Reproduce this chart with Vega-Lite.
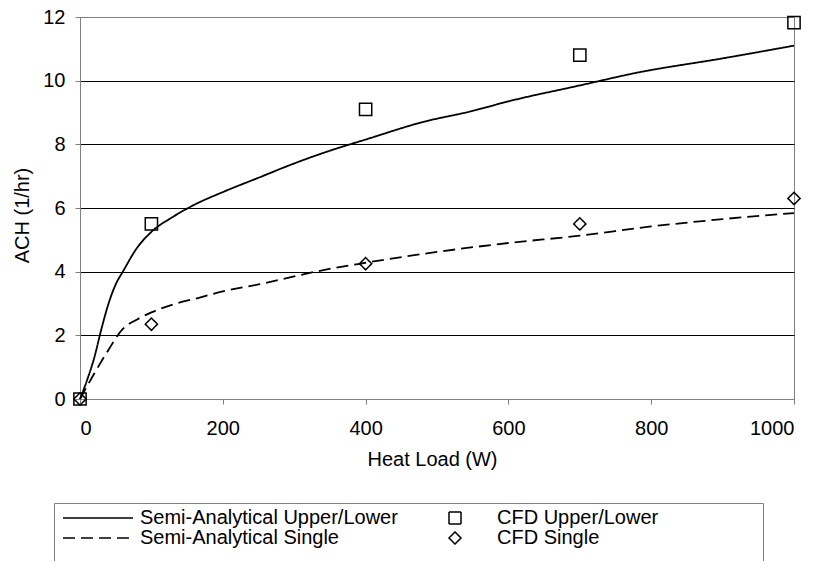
{
  "$schema": "https://vega.github.io/schema/vega-lite/v6.json",
  "width": 714,
  "height": 382,
  "autosize": {"type": "none"},
  "padding": {"left": 80, "top": 17, "right": 24, "bottom": 162},
  "background": "white",
  "config": {
    "view": {"stroke": "#808080", "strokeWidth": 1},
    "font": "Liberation Sans",
    "axis": {
      "labelFont": "Liberation Sans",
      "labelFontSize": 20,
      "labelColor": "black",
      "titleFont": "Liberation Sans",
      "titleFontSize": 20,
      "titleFontWeight": "normal",
      "titleColor": "black",
      "domainColor": "#808080",
      "tickColor": "#808080",
      "tickSize": 5
    },
    "legend": {
      "labelFont": "Liberation Sans",
      "labelFontSize": 20,
      "labelColor": "black",
      "labelLimit": 400
    }
  },
  "datasets": {
    "curves": [
      {"series": "Semi-Analytical Upper/Lower", "load": 0, "ach": 0},
      {"series": "Semi-Analytical Upper/Lower", "load": 10, "ach": 0.6},
      {"series": "Semi-Analytical Upper/Lower", "load": 20, "ach": 1.3},
      {"series": "Semi-Analytical Upper/Lower", "load": 30, "ach": 2.2},
      {"series": "Semi-Analytical Upper/Lower", "load": 40, "ach": 3.0},
      {"series": "Semi-Analytical Upper/Lower", "load": 50, "ach": 3.6},
      {"series": "Semi-Analytical Upper/Lower", "load": 60, "ach": 4.0},
      {"series": "Semi-Analytical Upper/Lower", "load": 80, "ach": 4.75},
      {"series": "Semi-Analytical Upper/Lower", "load": 100, "ach": 5.25},
      {"series": "Semi-Analytical Upper/Lower", "load": 130, "ach": 5.72},
      {"series": "Semi-Analytical Upper/Lower", "load": 160, "ach": 6.1},
      {"series": "Semi-Analytical Upper/Lower", "load": 200, "ach": 6.5},
      {"series": "Semi-Analytical Upper/Lower", "load": 250, "ach": 6.95},
      {"series": "Semi-Analytical Upper/Lower", "load": 300, "ach": 7.4},
      {"series": "Semi-Analytical Upper/Lower", "load": 350, "ach": 7.8},
      {"series": "Semi-Analytical Upper/Lower", "load": 400, "ach": 8.15},
      {"series": "Semi-Analytical Upper/Lower", "load": 480, "ach": 8.7},
      {"series": "Semi-Analytical Upper/Lower", "load": 550, "ach": 9.05},
      {"series": "Semi-Analytical Upper/Lower", "load": 600, "ach": 9.35},
      {"series": "Semi-Analytical Upper/Lower", "load": 700, "ach": 9.85},
      {"series": "Semi-Analytical Upper/Lower", "load": 780, "ach": 10.25},
      {"series": "Semi-Analytical Upper/Lower", "load": 900, "ach": 10.7},
      {"series": "Semi-Analytical Upper/Lower", "load": 1000, "ach": 11.1},
      {"series": "Semi-Analytical Single", "load": 0, "ach": 0},
      {"series": "Semi-Analytical Single", "load": 20, "ach": 0.8},
      {"series": "Semi-Analytical Single", "load": 40, "ach": 1.55},
      {"series": "Semi-Analytical Single", "load": 60, "ach": 2.2},
      {"series": "Semi-Analytical Single", "load": 80, "ach": 2.5},
      {"series": "Semi-Analytical Single", "load": 100, "ach": 2.72},
      {"series": "Semi-Analytical Single", "load": 135, "ach": 3.0},
      {"series": "Semi-Analytical Single", "load": 170, "ach": 3.2},
      {"series": "Semi-Analytical Single", "load": 200, "ach": 3.38},
      {"series": "Semi-Analytical Single", "load": 250, "ach": 3.6},
      {"series": "Semi-Analytical Single", "load": 300, "ach": 3.85},
      {"series": "Semi-Analytical Single", "load": 330, "ach": 4.0},
      {"series": "Semi-Analytical Single", "load": 400, "ach": 4.28},
      {"series": "Semi-Analytical Single", "load": 500, "ach": 4.62},
      {"series": "Semi-Analytical Single", "load": 600, "ach": 4.9},
      {"series": "Semi-Analytical Single", "load": 700, "ach": 5.13},
      {"series": "Semi-Analytical Single", "load": 800, "ach": 5.42},
      {"series": "Semi-Analytical Single", "load": 900, "ach": 5.65},
      {"series": "Semi-Analytical Single", "load": 1000, "ach": 5.84}
    ],
    "cfd": [
      {"series": "CFD Upper/Lower", "load": 0, "ach": 0},
      {"series": "CFD Upper/Lower", "load": 100, "ach": 5.5},
      {"series": "CFD Upper/Lower", "load": 400, "ach": 9.1},
      {"series": "CFD Upper/Lower", "load": 700, "ach": 10.8},
      {"series": "CFD Upper/Lower", "load": 1000, "ach": 11.82},
      {"series": "CFD Single", "load": 0, "ach": 0},
      {"series": "CFD Single", "load": 100, "ach": 2.35},
      {"series": "CFD Single", "load": 400, "ach": 4.25},
      {"series": "CFD Single", "load": 700, "ach": 5.5},
      {"series": "CFD Single", "load": 1000, "ach": 6.3}
    ]
  },
  "layer": [
    {
      "data": {"name": "curves"},
      "mark": {"type": "line", "interpolate": "monotone", "color": "black", "strokeWidth": 1.8},
      "encoding": {
        "x": {
          "field": "load", "type": "quantitative",
          "scale": {"domain": [0, 1000], "nice": false, "zero": false},
          "axis": {
            "values": [0, 200, 400, 600, 800, 1000],
            "format": "d",
            "grid": false,
            "labelPadding": 14,
            "title": "Heat Load (W)",
            "titleX": 352, "titleY": 60,
            "titleAlign": "center", "titleBaseline": "middle"
          }
        },
        "y": {
          "field": "ach", "type": "quantitative",
          "scale": {"domain": [0, 12], "nice": false},
          "axis": {
            "values": [0, 2, 4, 6, 8, 10, 12],
            "grid": true,
            "gridColor": {"condition": {"test": "datum.value === 0 || datum.value === 12", "value": "transparent"}, "value": "black"},
            "gridWidth": 1,
            "gridOpacity": 1,
            "labelPadding": 10,
            "title": "ACH (1/hr)",
            "titleAngle": -90,
            "titleX": -58, "titleY": 198,
            "titleAlign": "center", "titleBaseline": "middle"
          }
        },
        "strokeDash": {
          "field": "series", "type": "nominal",
          "scale": {
            "domain": ["Semi-Analytical Upper/Lower", "Semi-Analytical Single", "CFD Upper/Lower", "CFD Single"],
            "range": [[1, 0], [12, 6], [1, 0], [1, 0]]
          },
          "legend": {
            "orient": "none", "legendX": -26, "legendY": 486,
            "columns": 2, "gridAlign": "all",
            "padding": 5, "rowPadding": 0, "columnPadding": 18,
            "strokeColor": "#808080", "fillColor": "white",
            "symbolSize": 144, "symbolStrokeWidth": 1.5,
            "symbolStrokeColor": "black", "symbolFillColor": "transparent",
            "symbolOffset": 29, "labelOffset": 32,
            "title": " ", "titleOrient": "right", "titlePadding": 100, "titleFontSize": 60
          }
        }
      }
    },
    {
      "data": {"name": "cfd"},
      "mark": {"type": "point", "filled": false, "color": "black", "size": 150, "strokeWidth": 1.5, "opacity": 1},
      "encoding": {
        "x": {"field": "load", "type": "quantitative"},
        "y": {"field": "ach", "type": "quantitative"},
        "shape": {
          "field": "series", "type": "nominal",
          "scale": {
            "domain": ["Semi-Analytical Upper/Lower", "Semi-Analytical Single", "CFD Upper/Lower", "CFD Single"],
            "range": ["M-5.833,0H5.833", "M-5.833,0H5.833", "square", "diamond"]
          },
          "legend": {
            "orient": "none", "legendX": -26, "legendY": 486,
            "columns": 2, "gridAlign": "all",
            "padding": 5, "rowPadding": 0, "columnPadding": 18,
            "strokeColor": "#808080", "fillColor": "white",
            "symbolSize": 144, "symbolStrokeWidth": 1.5,
            "symbolStrokeColor": "black", "symbolFillColor": "transparent",
            "symbolOffset": 29, "labelOffset": 32,
            "title": " ", "titleOrient": "right", "titlePadding": 100, "titleFontSize": 60
          }
        },
        "strokeDash": {"field": "series", "type": "nominal"}
      }
    }
  ]
}
